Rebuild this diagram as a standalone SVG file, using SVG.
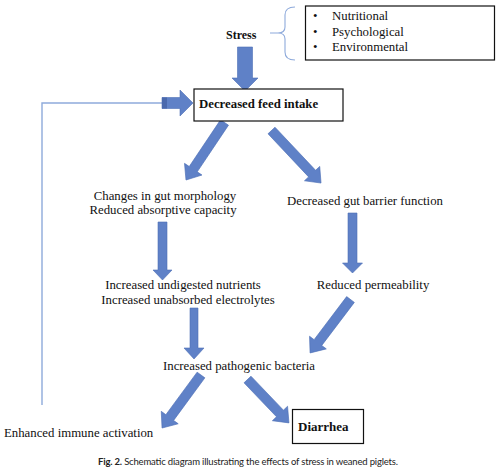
<svg xmlns="http://www.w3.org/2000/svg" width="502" height="475" viewBox="0 0 502 475">
<style>
.t{font-family:"Liberation Serif","Times New Roman",serif;font-size:12.8px;fill:#111}
.b{font-weight:bold}
.m{text-anchor:middle}
.box{fill:#fff;stroke:#111;stroke-width:1.2}
.arr{fill:#5f81c7;stroke:#4d6fb6;stroke-width:0.6}
.thin{fill:none;stroke:#8eaadb;stroke-width:1.4}
.cap{font-family:Lato,"Open Sans",sans-serif;font-size:9.5px;fill:#222}
</style>
<rect width="502" height="475" fill="#fff"/>

<g id="connectors">
  <polyline class="thin" points="42,405 42,103 162,103"/>
  <polygon class="arr" points="162,97.5 180,97.5 180,90 193,103 180,116 180,108.5 162,108.5"/>
  <rect x="162" y="97.5" width="5" height="11" fill="#4a69ad"/>
  <polygon class="arr" points="237.5,47 252.5,47 252.5,78 258,78 245,91 232,78 237.5,78"/>
  <g transform="translate(224.5,122.5) rotate(123.8)"><polygon class="arr" points="0,-4.8 56.2,-4.8 56.2,-10.5 69.2,0 56.2,10.5 56.2,4.8 0,4.8"/></g>
  <g transform="translate(271.5,130.5) rotate(46.7)"><polygon class="arr" points="0,-4.8 59.2,-4.8 59.2,-10.5 72.2,0 59.2,10.5 59.2,4.8 0,4.8"/></g>
  <polygon class="arr" points="158,222 167,222 167,270 172,270 162.5,280 153,270 158,270"/>
  <polygon class="arr" points="348,213 357,213 357,263 362.5,263 352.5,273 342.5,263 348,263"/>
  <polygon class="arr" points="190,308 198,308 198,348 204,348 194,359 184,348 190,348"/>
  <g transform="translate(350.5,299.5) rotate(127.1)"><polygon class="arr" points="0,-4.8 54,-4.8 54,-10.5 67,0 54,10.5 54,4.8 0,4.8"/></g>
  <g transform="translate(201,375) rotate(126.3)"><polygon class="arr" points="0,-4.8 52.8,-4.8 52.8,-10.5 65.8,0 52.8,10.5 52.8,4.8 0,4.8"/></g>
  <g transform="translate(247.5,379.5) rotate(46.3)"><polygon class="arr" points="0,-4.8 47,-4.8 47,-10.5 60,0 47,10.5 47,4.8 0,4.8"/></g>
</g>

<g id="stress">
  <text class="t b" x="226" y="39" style="font-size:12px">Stress</text>
</g>
<g id="brace">
  <path class="thin" style="stroke-width:1.1" d="M295,7 Q285,7 285,15 L285,27 Q285,33 278,33 L270,33 M278,33 Q285,33 285,39 L285,52 Q285,60 295,60"/>
</g>
<g id="stress-types">
  <rect class="box" x="305.5" y="6" width="189" height="54"/>
  <text class="t" x="313" y="20">•</text>
  <text class="t" x="313" y="35.5">•</text>
  <text class="t" x="313" y="51">•</text>
  <text class="t" x="332" y="20">Nutritional</text>
  <text class="t" x="332" y="35.5">Psychological</text>
  <text class="t" x="332" y="51">Environmental</text>
</g>
<g id="feed">
  <rect class="box" x="194" y="89" width="149" height="32"/>
  <text class="t b" x="199" y="108">Decreased feed intake</text>
</g>
<g id="morph">
  <text class="t m" x="165" y="200">Changes in gut morphology</text>
  <text class="t m" x="163" y="214">Reduced absorptive capacity</text>
</g>
<g id="barrier">
  <text class="t m" x="365" y="205">Decreased gut barrier function</text>
</g>
<g id="nutrients">
  <text class="t m" x="183" y="289">Increased undigested nutrients</text>
  <text class="t m" x="188" y="304">Increased unabsorbed electrolytes</text>
</g>
<g id="perm">
  <text class="t m" x="373" y="289">Reduced permeability</text>
</g>
<g id="bacteria">
  <text class="t m" x="239" y="370">Increased pathogenic bacteria</text>
</g>
<g id="immune">
  <text class="t" x="4" y="437">Enhanced immune activation</text>
</g>
<g id="diarrhea">
  <rect class="box" x="292.5" y="409.5" width="71" height="34"/>
  <text class="t b" x="298" y="431" style="font-size:13px">Diarrhea</text>
</g>
<g id="caption">
  <text class="cap" x="98" y="465" textLength="300" lengthAdjust="spacing"><tspan font-weight="bold">Fig. 2.</tspan> Schematic diagram illustrating the effects of stress in weaned piglets.</text>
</g>
</svg>
